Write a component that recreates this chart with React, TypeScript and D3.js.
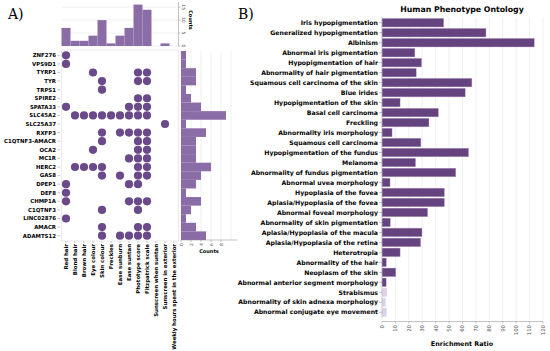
import { scaleBand, scaleLinear } from 'd3';

const traits = [
  'Red hair', 'Blond hair', 'Brown hair', 'Eye colour', 'Skin colour', 'Freckles', 'Ease sunburn',
  'Ease suntan', 'Phototype score', 'Fitzpatrick scale', 'Sunscreen when suntan',
  'Sunscreen in exterior', 'Weekly hours spent in the exterior',
];

const genes = [
  'ZNF276', 'VPS9D1', 'TYRP1', 'TYR', 'TRPS1', 'SPIRE2', 'SPATA33', 'SLC45A2', 'SLC25A37', 'RXFP3',
  'C1QTNF3-AMACR', 'OCA2', 'MC1R', 'HERC2', 'GAS8', 'DPEP1', 'DEF8', 'CHMP1A', 'C1QTNF3',
  'LINC02876', 'AMACR', 'ADAMTS12',
];

// trait index hits per gene (same order as genes)
const hits = [
  [0], [0], [3, 8, 9], [4, 8, 9], [4], [8, 9], [0, 7, 8, 9], [1, 2, 3, 4, 5, 6, 7, 8, 9], [11],
  [4, 6, 7, 8, 9], [4, 8, 9], [3, 8, 9], [7, 8, 9], [1, 2, 3, 4, 8, 9], [4, 6, 8, 9], [0, 7, 8],
  [0], [0, 7, 8, 9], [4, 8], [0], [4, 8, 9], [4, 6, 7, 8, 9],
];

const colTicks = [0, 5, 10, 15];
const rowTicks = [0, 2, 4, 6, 8];

const terms = [
  'Iris hypopigmentation', 'Generalized hypopigmentation', 'Albinism', 'Abnormal iris pigmentation',
  'Hypopigmentation of hair', 'Abnormality of hair pigmentation', 'Squamous cell carcinoma of the skin',
  'Blue irides', 'Hypopigmentation of the skin', 'Basal cell carcinoma', 'Freckling',
  'Abnormality iris morphology', 'Squamous cell carcinoma', 'Hypopigmentation of the fundus', 'Melanoma',
  'Abnormality of fundus pigmentation', 'Abnormal uvea morphology', 'Hypoplasia of the fovea',
  'Aplasia/Hypoplasia of the fovea', 'Abnormal foveal morphology', 'Abnormality of skin pigmentation',
  'Aplasia/Hypoplasia of the macula', 'Aplasia/Hypoplasia of the retina', 'Heterotropia',
  'Abnormality of the hair', 'Neoplasm of the skin', 'Abnormal anterior segment morphology', 'Strabismus',
  'Abnormality of skin adnexa morphology', 'Abnormal conjugate eye movement',
];
const ratios = [
  46, 77.5, 113.5, 24.5, 29.5, 25.5, 67, 62, 13.5, 42, 35, 7.5, 29, 64.5, 25, 55, 6, 46.5, 46.5, 34,
  6.2, 29.8, 28.8, 13.5, 3.2, 10.3, 3.1, 3.7, 2.8, 3.6,
];
const significant = [
  true, true, true, true, true, true, true, true, true, true, true, true, true, true, true, true, true,
  true, true, true, true, true, true, true, true, true, true, false, false, false,
];
const ratioTicks = [0, 10, 20, 30, 40, 50, 60, 70, 80, 90, 100, 110, 120];

const FONT = '"DejaVu Sans", sans-serif';
const DOT = '#6a4a8a';
const HIST = '#8a6ca6';
const BAR = '#65437f';
const BAR_LIGHT = '#ddd0ea';
const GRID = '#e6e6e6';

export default function App() {
  const colCounts = traits.map((_, i) => hits.filter((h) => h.includes(i)).length);
  const rowCounts = hits.map((h) => h.length);

  const x = scaleBand<string>().domain(traits).range([61.5, 178.5]);
  const y = scaleBand<string>().domain(genes).range([51, 240]);
  const topY = scaleLinear().domain([0, 17]).range([46, 2]);
  const sideX = scaleLinear().domain([0, 11.2]).range([181, 237]);

  const by = scaleBand<string>().domain(terms).range([17, 318]).padding(0.14);
  const bx = scaleLinear().domain([0, 120]).range([382, 543]);

  return (
    <svg width={550} height={351} style={{ position: 'absolute', left: 0, top: 0, background: '#fff' }} fontFamily={FONT}>
      <text x={8} y={19} fontFamily='"DejaVu Serif", serif' fontSize={14}>A)</text>
      <text x={238} y={19} fontFamily='"DejaVu Serif", serif' fontSize={14}>B)</text>

      {/* top histogram: hits per trait */}
      {colTicks.map((t) => (
        <line key={`tg${t}`} x1={61.5} x2={178.5} y1={topY(t)} y2={topY(t)} stroke={GRID} strokeWidth={0.6} />
      ))}
      {traits.map((t, i) => (
        colCounts[i] > 0 ? (
          <rect key={`tb${t}`} x={x(t)} y={topY(colCounts[i])} width={x.bandwidth()} height={topY(0) - topY(colCounts[i])} fill={HIST} />
        ) : null
      ))}
      <line x1={178.5} x2={178.5} y1={2} y2={46} stroke="#888" strokeWidth={0.5} />
      {colTicks.map((t) => (
        <g key={`tt${t}`}>
          <line x1={178.5} x2={180.5} y1={topY(t)} y2={topY(t)} stroke="#888" strokeWidth={0.5} />
          <text transform={`translate(182,${topY(t)}) rotate(90)`} textAnchor="middle" fontSize={4.5} fill="#555">{t}</text>
        </g>
      ))}
      <text transform="translate(188.5,20) rotate(90)" textAnchor="middle" fontSize={5} fontWeight="bold">Counts</text>

      {/* dot matrix */}
      <rect x={61.5} y={50} width={117} height={191} fill="none" stroke={GRID} strokeWidth={0.8} />
      {genes.map((g, r) => (
        <g key={`g${g}`}>
          <line x1={57.5} x2={60} y1={y(g)! + y.bandwidth() / 2} y2={y(g)! + y.bandwidth() / 2} stroke="#888" strokeWidth={0.5} />
          <text x={56} y={y(g)! + y.bandwidth() / 2} dy="0.35em" textAnchor="end" fontSize={5.4} fontWeight="bold">{g}</text>
          {hits[r].map((c) => (
            <circle key={`d${g}${c}`} cx={x(traits[c])! + x.bandwidth() / 2} cy={y(g)! + y.bandwidth() / 2} r={4.1} fill={DOT} />
          ))}
        </g>
      ))}
      {traits.map((t) => (
        <g key={`c${t}`}>
          <line x1={x(t)! + x.bandwidth() / 2} x2={x(t)! + x.bandwidth() / 2} y1={241} y2={243} stroke="#888" strokeWidth={0.5} />
          <text transform={`translate(${x(t)! + x.bandwidth() / 2},244) rotate(-90)`} dy="0.35em" textAnchor="end" fontSize={5.4} fontWeight="bold">{t}</text>
        </g>
      ))}

      {/* side histogram: hits per gene */}
      {rowTicks.concat([10]).map((t) => (
        <line key={`sg${t}`} x1={sideX(t)} x2={sideX(t)} y1={51} y2={240} stroke={GRID} strokeWidth={0.6} />
      ))}
      {genes.map((g, r) => (
        <rect key={`sb${g}`} x={sideX(0)} y={y(g)} width={sideX(rowCounts[r]) - sideX(0)} height={y.bandwidth()} fill={HIST} />
      ))}
      <line x1={181} x2={237} y1={240} y2={240} stroke="#888" strokeWidth={0.5} />
      {rowTicks.map((t) => (
        <g key={`st${t}`}>
          <line x1={sideX(t)} x2={sideX(t)} y1={240} y2={242} stroke="#888" strokeWidth={0.5} />
          <text transform={`translate(${sideX(t)},243) rotate(-90)`} dy="0.35em" textAnchor="end" fontSize={4.5} fill="#555">{t}</text>
        </g>
      ))}
      <text x={209} y={253} textAnchor="middle" fontSize={5} fontWeight="bold">Counts</text>

      {/* panel B */}
      <text x={462} y={12} textAnchor="middle" fontSize={7.8} fontWeight="bold">Human Phenotype Ontology</text>
      {ratioTicks.map((t) => (
        <line key={`bg${t}`} x1={bx(t)} x2={bx(t)} y1={17} y2={320} stroke={GRID} strokeWidth={0.6} />
      ))}
      {terms.map((t, i) => (
        <g key={`b${t}`}>
          <rect x={bx(0)} y={by(t)} width={bx(ratios[i]) - bx(0)} height={by.bandwidth()} fill={significant[i] ? BAR : BAR_LIGHT} stroke={significant[i] ? '#b9a6cc' : '#eee6f4'} strokeWidth={0.4} />
          <line x1={379} x2={382} y1={by(t)! + by.bandwidth() / 2} y2={by(t)! + by.bandwidth() / 2} stroke="#888" strokeWidth={0.5} />
          <text x={378} y={by(t)! + by.bandwidth() / 2} dy="0.35em" textAnchor="end" fontSize={6.2} fontWeight="bold">{t}</text>
        </g>
      ))}
      <line x1={382} x2={382} y1={17} y2={318} stroke="#aaa" strokeWidth={0.5} />
      <line x1={382} x2={543} y1={321.5} y2={321.5} stroke="#888" strokeWidth={0.5} />
      {ratioTicks.map((t) => (
        <g key={`bt${t}`}>
          <line x1={bx(t)} x2={bx(t)} y1={321.5} y2={323.5} stroke="#888" strokeWidth={0.5} />
          <text transform={`translate(${bx(t)},325) rotate(-90)`} dy="0.35em" textAnchor="end" fontSize={5.4} fill="#555">{t}</text>
        </g>
      ))}
      <text x={462} y={346} textAnchor="middle" fontSize={6.4} fontWeight="bold">Enrichment Ratio</text>
    </svg>
  );
}
